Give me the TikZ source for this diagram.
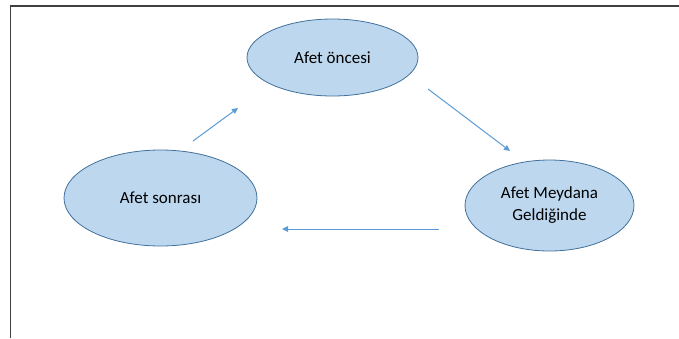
\documentclass[tikz,border=0pt]{standalone}
\usepackage{fontspec}
\setmainfont{Carlito}
\usetikzlibrary{shapes.geometric}
\usetikzlibrary{arrows.meta}
\definecolor{evfill}{HTML}{BDD7EE}
\definecolor{evedge}{HTML}{41719C}
\definecolor{evarrow}{HTML}{5B9BD5}
\definecolor{framegray}{HTML}{404040}

\begin{document}
\begin{tikzpicture}[x=1pt, y=-1pt]
        % ================= styles =================
        \tikzset{
            % light blue phase ellipse
            enode/.style={ellipse, draw=evedge, line width=0.8pt, fill=evfill, inner sep=0pt,
                          align=center, font=\fontsize{17}{22}\selectfont},
            % thin blue arrow
            blue_arrow/.style={line width=1pt, evarrow, -{Triangle[length=6pt, width=5.5pt]}},
            % dark frame line
            frame_line/.style={line width=1.6pt, framegray}
        }

        % ================= canvas =================
        \useasboundingbox (0,0) rectangle (679,338);
        \coordinate (f_low) at (10.5,338);
        \coordinate (f_corner) at (10.5,6);
        \coordinate (f_right) at (679,6);
        \draw[frame_line] (f_low) -- (f_corner) -- (f_right);

        % ================= phases =================
        \node[enode, minimum width=171pt, minimum height=77pt] (once) at (332.5,57.5) {Afet öncesi};
        \node[enode, minimum width=169pt, minimum height=91pt] (meydana) at (549.5,205.5) {Afet Meydana\\Geldiğinde};
        \node[enode, minimum width=193pt, minimum height=96pt] (sonrasi) at (160.5,198) {Afet sonrası};

        % ================= arrow ends =================
        \coordinate (a1_s) at (193,141);
        \coordinate (a1_e) at (238,108);
        \coordinate (a2_s) at (428,89);
        \coordinate (a2_e) at (510,151);
        \coordinate (a3_s) at (439,229);
        \coordinate (a3_e) at (282,229);

        % ================= cycle =================
        \draw[blue_arrow] (a1_s) -- (a1_e);
        \draw[blue_arrow] (a2_s) -- (a2_e);
        \draw[blue_arrow] (a3_s) -- (a3_e);

    \end{tikzpicture}
\end{document}
